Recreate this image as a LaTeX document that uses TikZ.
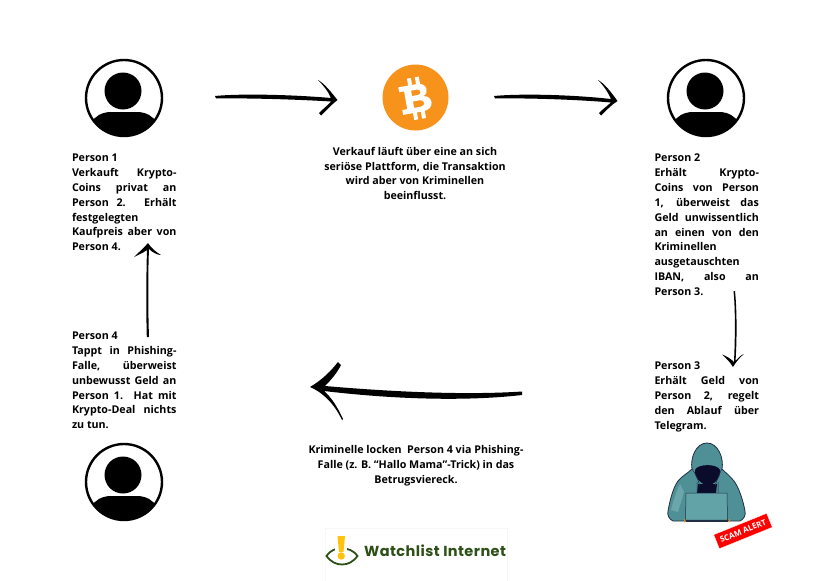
\documentclass[tikz,border=0pt]{standalone}
\usepackage{fontspec}
\setmainfont{Open Sans}
\newfontfamily\wlfont[LetterSpace=3]{Poppins}
\usetikzlibrary{calc}
\definecolor{btc}{HTML}{F7931A}
\definecolor{hood}{HTML}{4F8F96}
\definecolor{hoodlight}{HTML}{6BA6AB}
\definecolor{hooddark}{HTML}{1F2F45}
\definecolor{face}{HTML}{0B0B2B}
\definecolor{lap}{HTML}{62A3A8}
\definecolor{wgreen}{HTML}{2C5016}
\definecolor{wyellow}{HTML}{FFC20E}
\newcommand{\jl}[1]{\makebox[104.5pt][s]{#1}}
\tikzset{x=1pt,y=-1pt,
 txt/.style={inner sep=0pt,outer sep=0pt,font=\bfseries\fontsize{10.7}{14.85}\selectfont,align=left,anchor=north west},
 ctr/.style={inner sep=0pt,outer sep=0pt,font=\bfseries\fontsize{10.7}{14.85}\selectfont,align=center,anchor=north},
 ink/.style={fill=black,draw=none}}
\newcommand{\person}[2]{%
 \begin{scope}[shift={(#1,#2)}]
 \draw[line width=2.4pt] (0,0) circle (38);
 \fill (-1,-7) circle (18.5);
 \begin{scope}
  \clip (0,0) circle (38);
  \fill (-34,38) -- (-34,24) -- (-29,20) .. controls (-24,15) and (-18,14) .. (-12,14) -- (12,14) .. controls (18,14) and (24,15) .. (29,20) -- (34,24) -- (34,38) -- cycle;
 \end{scope}
 \end{scope}}
\begin{document}
\begin{tikzpicture}
\useasboundingbox (0,0) rectangle (831,581);
\fill[white] (0,0) rectangle (831,581);
\person{124}{98}
\person{706}{98}
\person{124}{482}
% bitcoin
\fill[btc] (415.5,97.5) circle (33);
\begin{scope}[shift={(415.5,98.5)},rotate=10]
\fill[white] (-5,-21) rectangle (-1,-13) (3,-21) rectangle (7,-13) (-5,13) rectangle (-1,21) (3,13) rectangle (7,21);
\fill[white,even odd rule] (-15,-14) -- (4,-14) .. controls (14,-14) and (15,-3) .. (8,-1) .. controls (18,0) and (18,14) .. (5,14) -- (-15,14) -- (-15,9) -- (-10,9) -- (-10,-9) -- (-15,-9) -- cycle
 (-3,-8.5) -- (3,-8.5) .. controls (7,-8.5) and (7,-3) .. (3,-3) -- (-3,-3) -- cycle
 (-3,2.5) -- (4,2.5) .. controls (9,2.5) and (9,9) .. (4,9) -- (-3,9) -- cycle;
\end{scope}
% arrows
\fill[ink] (215,96) .. controls (240,93.5) and (290,94.5) .. (331,98) .. controls (328,91) and (323,85) .. (318,80) .. controls (325,84) and (331,92) .. (337.5,100) .. controls (331,105) and (326,111) .. (321,115.5) -- (319,113) .. controls (323,109) and (327,106) .. (331,101.5) .. controls (290,99) and (240,98) .. (216,98.5) -- cycle;
\fill[ink] (494,96) .. controls (520,93.5) and (570,94.5) .. (611,99) .. controls (608,92) and (603,85) .. (598,80) .. controls (605,84) and (611,92) .. (617.5,101) .. controls (611,105) and (606,111) .. (601,115.5) -- (599,113) .. controls (603,109) and (607,106) .. (611,102.5) .. controls (570,99) and (520,98) .. (495,98.5) -- cycle;
\fill[ink] (733.5,291) .. controls (735.5,310) and (735,340) .. (734,362) .. controls (730,358) and (726,356) .. (722,354.5) .. controls (726,358) and (730,362) .. (733,367) .. controls (736,362) and (740,357) .. (744,354) .. controls (741,355) and (738,358) .. (735.5,361) .. controls (737,340) and (737,310) .. (735,291) -- cycle;
\fill[ink] (522,391.5) .. controls (470,395) and (400,392.5) .. (325,386) .. controls (331,380) and (337,373) .. (341,365) -- (338,362) .. controls (331,371) and (322,380) .. (310,387) .. controls (322,392) and (334,403) .. (342,420) -- (343,419) .. controls (337,406) and (331,397) .. (324,391) .. controls (400,400) and (470,401) .. (522,395) -- cycle;
\fill[ink] (146.8,337) .. controls (146,310) and (146.3,270) .. (147,250) .. controls (143,253) and (138,255) .. (134,257) .. controls (139,252) and (144,248) .. (148,243) .. controls (151,248) and (156,252) .. (161,255) .. controls (157,255) and (152,252) .. (149,249) .. controls (148,270) and (148,310) .. (149,337) -- cycle;
% texts
\node[txt] (p1) at (72,154) {Person 1\\\jl{Verkauft Krypto-}\\\jl{Coins privat an}\\\jl{Person 2. Erhält}\\festgelegten\\\jl{Kaufpreis aber von}\\Person 4.};
\node[txt] (p4) at (72,332) {Person 4\\\jl{Tappt in Phishing-}\\\jl{Falle, überweist}\\\jl{unbewusst Geld an}\\\jl{Person 1. Hat mit}\\\jl{Krypto-Deal nichts}\\zu tun.};
\node[txt] (p2) at (654.5,154) {Person 2\\\jl{Erhält Krypto-}\\\jl{Coins von Person}\\\jl{1, überweist das}\\\jl{Geld unwissentlich}\\\jl{an einen von den}\\Kriminellen\\ausgetauschten\\\jl{IBAN, also an}\\Person 3.};
\node[txt] (p3) at (654.5,362) {Person 3\\\jl{Erhält Geld von}\\\jl{Person 2, regelt}\\\jl{den Ablauf über}\\Telegram.};
\node[ctr] (m1) at (415,147) {Verkauf läuft über eine an sich\\seriöse Plattform, die Transaktion\\wird aber von Kriminellen\\beeinflusst.};
\node[ctr] (m2) at (416,445.5) {Kriminelle locken\ \ Person 4 via Phishing-\\Falle (z. B. “Hallo Mama”-Trick) in das\\Betrugsviereck.};
% hacker
\fill[hood,draw=hooddark,line width=.8pt] (673,521) .. controls (669,519) and (667,515) .. (668,511) .. controls (670,500) and (673,488) .. (678,481) .. controls (682,476) and (688,473) .. (692,469) .. controls (690,458) and (696,443) .. (707,443) .. controls (718,443) and (724,458) .. (722,469) .. controls (726,473) and (730,476) .. (734,481) .. controls (739,488) and (743,500) .. (745,511) .. controls (746,515) and (744,519) .. (740,521) -- cycle;
\fill[hoodlight] (680,484) .. controls (676,492) and (673,502) .. (671,510) -- (678,512) -- (684,492) -- cycle;
\fill[face] (695,470) .. controls (697,464) and (717,463) .. (720,470) .. controls (721,478) and (714,485) .. (708,485) .. controls (702,485) and (694,478) .. (695,470) -- cycle;
\fill[face] (698,484) -- (717,484) -- (716,493) -- (697,493) -- cycle;
\draw[hooddark,line width=.5pt] (692,469) .. controls (696,474) and (698,480) .. (700,486) (722,469) .. controls (719,474) and (717,480) .. (715,486) (697,482) -- (697,493) (718,482) -- (718,493);
\fill[lap,draw=hooddark,line width=.5pt] (686,493) -- (727,493) -- (727.5,520) -- (685.5,520) -- cycle;
\fill[hooddark] (685.5,519.5) rectangle (728,522);
\fill[orange!90!brown] (684,519) rectangle (685,522) (729,519) rectangle (730,522);
\node[rotate=22,fill=red,draw=white,line width=.3pt,text=white,font=\bfseries\fontsize{8}{8}\selectfont,inner xsep=3pt,inner ysep=0pt,minimum height=15pt,minimum width=57pt] (scam) at (743,531) {SCAM ALERT};
% logo
\draw[black!3,line width=.5pt] (325,528) -- (325,581) (507,528) -- (507,581) (325,528) -- (507,528);
\draw[wgreen,line width=1.8pt] (326.5,556) .. controls (331,549.5) and (336,548.5) .. (342,548.5) .. controls (348,548.5) and (353,550) .. (357.5,556) .. controls (353,562) and (348,564.5) .. (342,564.5) .. controls (336,564.5) and (331,562) .. (326.5,556) -- cycle;
\fill[white] (335,535) rectangle (347,552.5);
\fill[wyellow] (337.5,536) -- (345,536) -- (343.5,552) -- (339,552) -- cycle;
\fill[wyellow] (341.2,556) circle (3.7);
\node[inner sep=0pt,text=wgreen,font=\wlfont\bfseries\fontsize{14.5}{14.5}\selectfont,anchor=west] (wl) at (364,551) {Watchlist Internet};
\end{tikzpicture}
\end{document}
